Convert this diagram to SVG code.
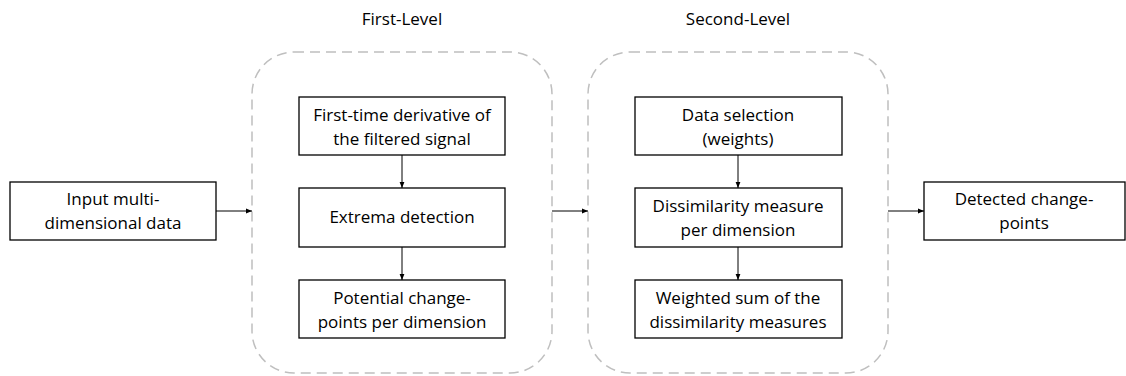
<svg xmlns="http://www.w3.org/2000/svg" width="1126" height="376" viewBox="0 0 1126 376">
  <defs>
    <marker id="arrow" viewBox="0 0 10 10" refX="10" refY="5" markerWidth="6" markerHeight="6" orient="auto" markerUnits="userSpaceOnUse">
      <path d="M0,1 L10,5 L0,9 z" fill="#000"/>
    </marker>
    <style>
      .box { fill: #fff; stroke: #000; stroke-width: 1.3; }
      .group { fill: none; stroke: #bfbfbf; stroke-width: 1.5; stroke-dasharray: 10 6; }
      .link { fill: none; stroke: #000; stroke-width: 1; marker-end: url(#arrow); }
      text { font-family: "Open Sans", "Noto Sans", sans-serif; font-size: 17px; fill: #000; text-anchor: middle; }
    </style>
  </defs>
  <rect width="1126" height="376" fill="#fff"/>

  <!-- stage containers -->
  <g id="first-level">
    <rect class="group" x="252" y="52" width="300" height="321" rx="42" ry="42"/>
    <text x="402" y="25">First-Level</text>
  </g>
  <g id="second-level">
    <rect class="group" x="588" y="52" width="300" height="321" rx="42" ry="42"/>
    <text x="738" y="25">Second-Level</text>
  </g>

  <!-- connectors -->
  <g id="connectors">
    <line class="link" x1="216" y1="211" x2="252" y2="211"/>
    <line class="link" x1="402" y1="155" x2="402" y2="188"/>
    <line class="link" x1="402" y1="247" x2="402" y2="280"/>
    <line class="link" x1="552" y1="211" x2="588" y2="211"/>
    <line class="link" x1="738" y1="155" x2="738" y2="188"/>
    <line class="link" x1="738" y1="247" x2="738" y2="280"/>
    <line class="link" x1="888" y1="211" x2="924" y2="211"/>
  </g>

  <!-- process nodes -->
  <g id="input">
    <rect class="box" x="10" y="182" width="206" height="58"/>
    <text x="113" y="205">Input multi-</text>
    <text x="113" y="229">dimensional data</text>
  </g>
  <g id="derivative">
    <rect class="box" x="299" y="97" width="206" height="58"/>
    <text x="402" y="120.5">First-time derivative of</text>
    <text x="402" y="144.5">the filtered signal</text>
  </g>
  <g id="extrema">
    <rect class="box" x="299" y="188" width="206" height="59"/>
    <text x="402" y="223">Extrema detection</text>
  </g>
  <g id="potential">
    <rect class="box" x="299" y="280" width="206" height="58"/>
    <text x="402" y="303.5">Potential change-</text>
    <text x="402" y="327.5">points per dimension</text>
  </g>
  <g id="selection">
    <rect class="box" x="635" y="97" width="207" height="58"/>
    <text x="738" y="120.5">Data selection</text>
    <text x="738" y="144.5">(weights)</text>
  </g>
  <g id="dissimilarity">
    <rect class="box" x="635" y="188" width="207" height="59"/>
    <text x="738" y="211.5">Dissimilarity measure</text>
    <text x="738" y="235.5">per dimension</text>
  </g>
  <g id="weighted-sum">
    <rect class="box" x="635" y="280" width="207" height="58"/>
    <text x="738" y="303.5">Weighted sum of the</text>
    <text x="738" y="327.5">dissimilarity measures</text>
  </g>
  <g id="output">
    <rect class="box" x="924" y="182" width="201" height="58"/>
    <text x="1024" y="205">Detected change-</text>
    <text x="1024" y="229">points</text>
  </g>
</svg>
